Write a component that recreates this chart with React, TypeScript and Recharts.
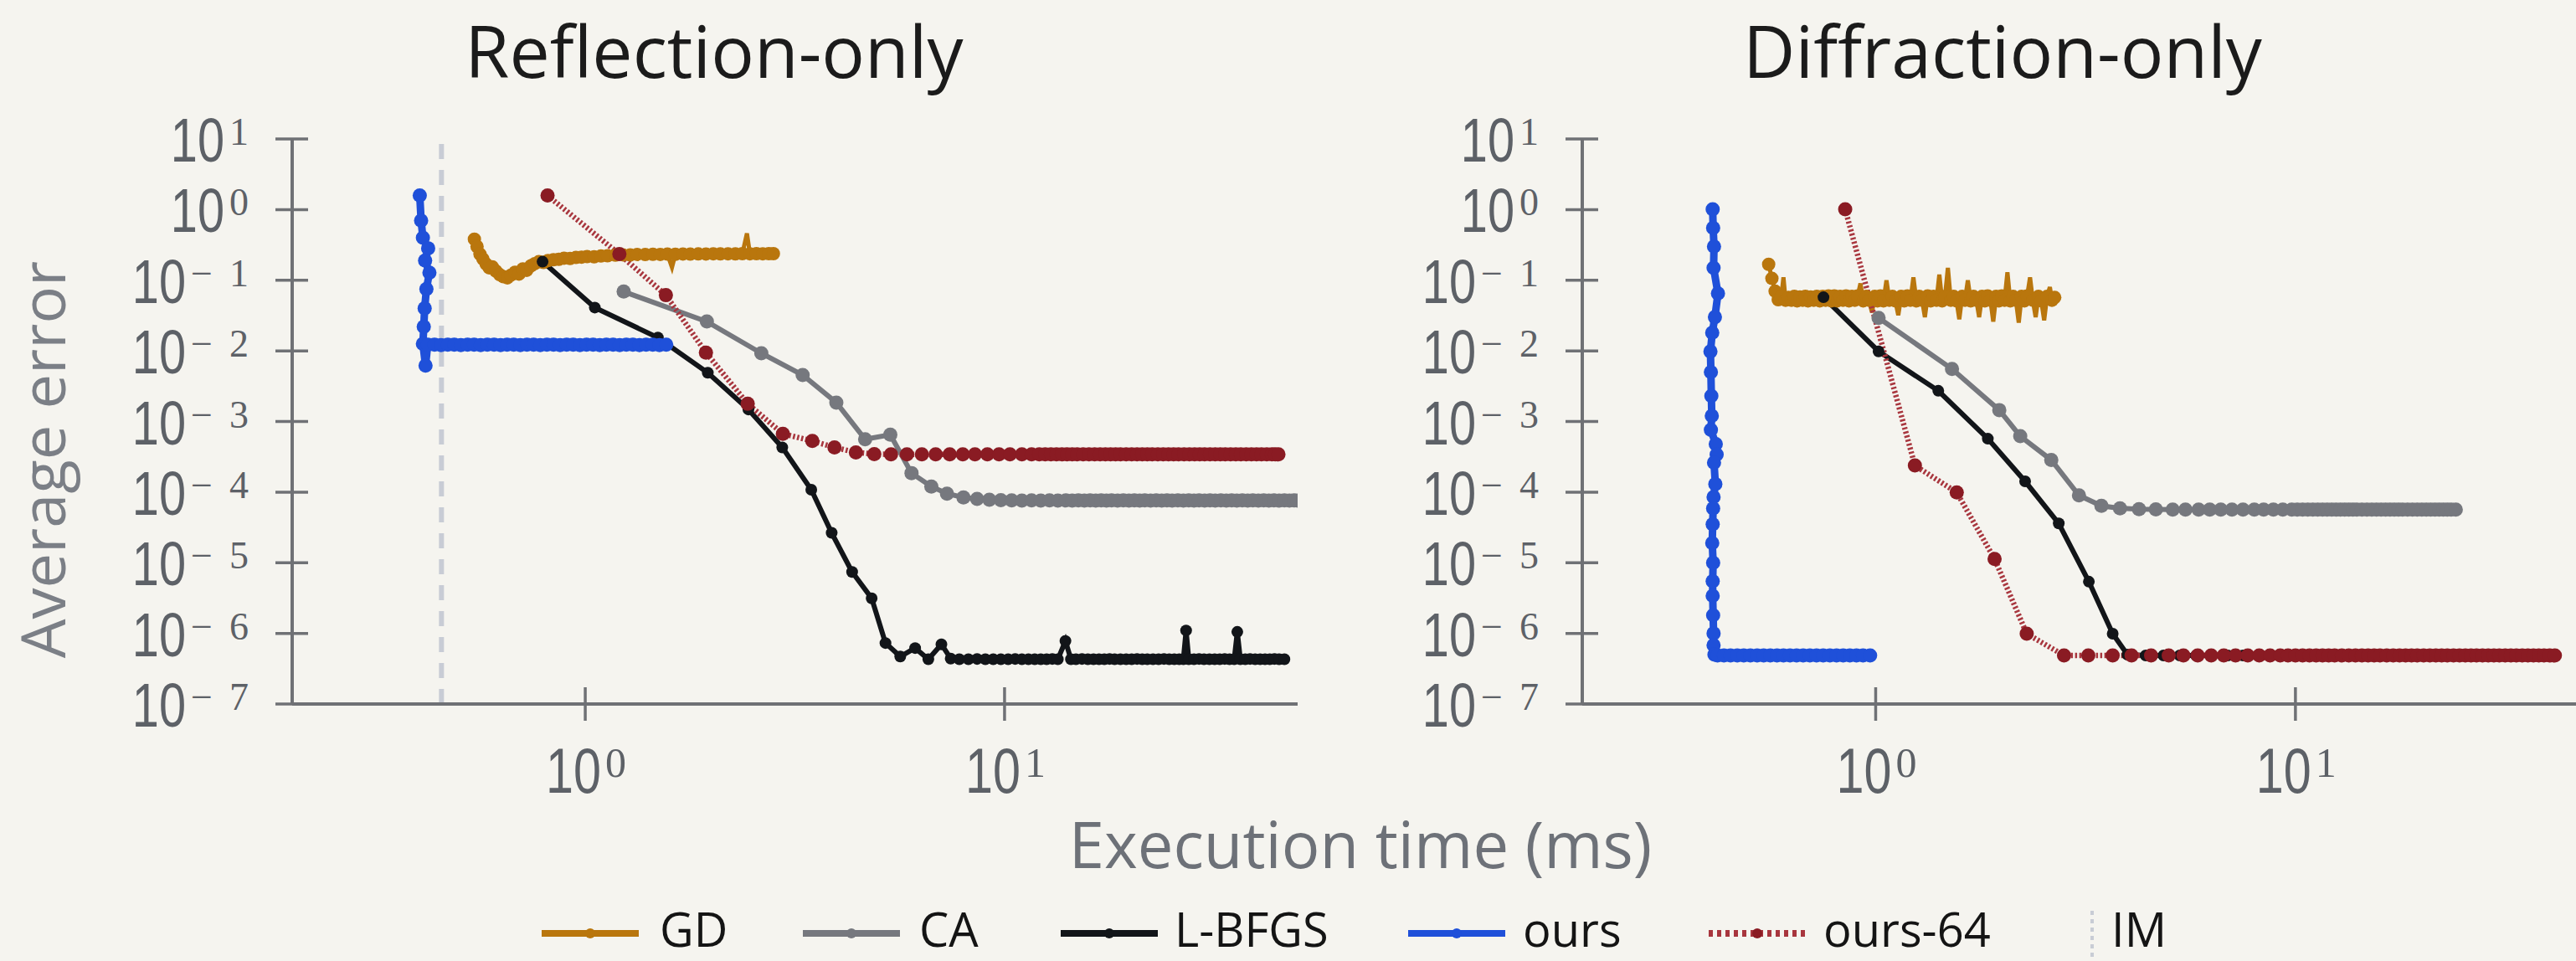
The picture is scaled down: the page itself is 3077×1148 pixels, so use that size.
import React from "react";
import { LineChart, Line, XAxis, YAxis, ReferenceLine } from "recharts";

// [time ms, error, marker shown (0 = line only)]
type Pt = [number, number, number?];

const yTicks = [1e1, 1e0, 1e-1, 1e-2, 1e-3, 1e-4, 1e-5, 1e-6, 1e-7];
const xTicks = [1, 10];
const imTime = 0.454;

// ---------- Reflection-only ----------
const reflGD: Pt[] = [
  [0.544, 0.382], [0.552, 0.3], [0.561, 0.234], [0.57, 0.2], [0.58, 0.17], [0.59, 0.15],
  [0.6, 0.155], [0.612, 0.135], [0.625, 0.12], [0.638, 0.112], [0.652, 0.108], [0.665, 0.118],
  [0.68, 0.13], [0.695, 0.122], [0.71, 0.145], [0.725, 0.138], [0.742, 0.16], [0.758, 0.172],
  [0.775, 0.183], [0.795, 0.178], [0.815, 0.19], [0.84, 0.195], [0.865, 0.198], [0.89, 0.205],
  [0.92, 0.203], [0.95, 0.21], [0.98, 0.212], [1.01, 0.216], [1.05, 0.214], [1.09, 0.22],
  [1.13, 0.222], [1.18, 0.226], [1.23, 0.229], [1.28, 0.228], [1.33, 0.232], [1.39, 0.231],
  [1.45, 0.233], [1.51, 0.232], [1.57, 0.234], [1.61, 0.152, 0], [1.64, 0.233], [1.71, 0.235],
  [1.78, 0.234], [1.86, 0.236], [1.94, 0.235], [2.02, 0.237], [2.1, 0.236], [2.19, 0.237],
  [2.28, 0.236], [2.37, 0.238], [2.43, 0.46, 0], [2.47, 0.237], [2.56, 0.238], [2.65, 0.237],
  [2.74, 0.238], [2.81, 0.238],
];

const reflCA: Pt[] = [
  [1.235, 0.069], [1.95, 0.026], [2.63, 0.00925], [3.3, 0.00455], [3.97, 0.00185],
  [4.65, 5.6e-4], [5.34, 6.5e-4], [6.0, 1.86e-4], [6.69, 1.2e-4], [7.29, 9.5e-5],
  [7.98, 8.4e-5], [8.6, 8.0e-5], [9.2, 7.8e-5], [9.8, 7.7e-5], [10.4, 7.65e-5],
  [11.0, 7.6e-5], [11.6, 7.65e-5], [12.2, 7.6e-5], [12.8, 7.65e-5], [13.4, 7.6e-5],
  [14.0, 7.65e-5], [14.5, 7.6e-5], [15.0, 7.65e-5], [15.5, 7.6e-5], [16.0, 7.65e-5],
  [16.5, 7.6e-5], [17.0, 7.65e-5], [17.5, 7.6e-5], [18.0, 7.65e-5], [18.6, 7.6e-5],
  [19.2, 7.65e-5], [19.8, 7.6e-5], [20.4, 7.65e-5], [21.0, 7.6e-5], [21.6, 7.65e-5],
  [22.3, 7.6e-5], [23.0, 7.65e-5], [23.7, 7.6e-5], [24.4, 7.65e-5], [25.1, 7.6e-5],
  [25.9, 7.65e-5], [26.7, 7.6e-5], [27.5, 7.65e-5], [28.3, 7.6e-5], [29.1, 7.65e-5],
  [30.0, 7.6e-5], [30.9, 7.65e-5], [31.8, 7.6e-5], [32.8, 7.65e-5], [33.8, 7.6e-5],
  [34.8, 7.65e-5], [35.8, 7.6e-5], [36.9, 7.65e-5], [38.0, 7.6e-5], [39.1, 7.65e-5],
  [40.3, 7.6e-5], [41.5, 7.65e-5], [42.7, 7.6e-5], [43.9, 7.65e-5], [45.2, 7.6e-5],
  [46.5, 7.65e-5], [47.8, 7.6e-5], [49.0, 7.65e-5], [50.0, 7.6e-5],
];

const reflLBFGS: Pt[] = [
  [0.791, 0.183], [1.054, 0.041], [1.49, 0.0154], [1.96, 0.0049], [2.45, 0.00148],
  [2.95, 4.3e-4], [3.46, 1.08e-4], [3.87, 2.65e-5], [4.33, 7.4e-6], [4.82, 3.14e-6],
  [5.2, 7.3e-7], [5.64, 4.7e-7], [6.12, 6.2e-7], [6.58, 4.3e-7], [7.07, 7.0e-7],
  [7.44, 4.4e-7], [7.8, 4.3e-7], [8.2, 4.3e-7], [8.6, 4.35e-7], [9.0, 4.3e-7],
  [9.4, 4.3e-7], [9.8, 4.3e-7], [10.2, 4.3e-7], [10.6, 4.35e-7], [11.0, 4.3e-7],
  [11.4, 4.3e-7], [11.8, 4.3e-7], [12.2, 4.3e-7], [12.6, 4.3e-7], [13.0, 4.35e-7],
  [13.4, 4.3e-7], [13.97, 7.8e-7], [14.4, 4.3e-7], [14.8, 4.3e-7], [15.3, 4.35e-7],
  [15.8, 4.3e-7], [16.3, 4.3e-7], [16.8, 4.3e-7], [17.3, 4.3e-7], [17.8, 4.35e-7],
  [18.3, 4.3e-7], [18.9, 4.3e-7], [19.5, 4.3e-7], [20.1, 4.3e-7], [20.7, 4.35e-7],
  [21.3, 4.3e-7], [21.9, 4.3e-7], [22.6, 4.3e-7], [23.3, 4.3e-7], [24.0, 4.35e-7],
  [24.7, 4.3e-7], [25.4, 4.3e-7], [26.1, 4.3e-7], [26.7, 4.3e-7], [27.1, 1.1e-6],
  [27.5, 4.3e-7], [28.3, 4.3e-7], [29.1, 4.35e-7], [29.9, 4.3e-7], [30.8, 4.3e-7],
  [31.7, 4.3e-7], [32.6, 4.3e-7], [33.5, 4.35e-7], [34.4, 4.3e-7], [35.3, 4.3e-7],
  [35.9, 1.05e-6], [36.5, 4.3e-7], [37.5, 4.3e-7], [38.5, 4.35e-7], [39.6, 4.3e-7],
  [40.7, 4.3e-7], [41.8, 4.3e-7], [42.9, 4.3e-7], [44.0, 4.35e-7], [45.2, 4.3e-7],
  [46.5, 4.3e-7],
];

const reflOurs: Pt[] = [
  [0.403, 1.58], [0.406, 0.7], [0.41, 0.4], [0.422, 0.283], [0.415, 0.19], [0.425, 0.128],
  [0.418, 0.075], [0.414, 0.04], [0.412, 0.022], [0.41, 0.0126], [0.416, 0.0062],
  [0.421, 0.0122], [0.437, 0.0122], [0.453, 0.0121], [0.47, 0.0122], [0.487, 0.0122],
  [0.505, 0.0121], [0.524, 0.0122], [0.543, 0.0122], [0.563, 0.0121], [0.584, 0.0122],
  [0.606, 0.0122], [0.628, 0.0121], [0.651, 0.0122], [0.675, 0.0122], [0.7, 0.0121],
  [0.726, 0.0122], [0.753, 0.0122], [0.781, 0.0121], [0.81, 0.0122], [0.84, 0.0122],
  [0.871, 0.0121], [0.903, 0.0122], [0.936, 0.0122], [0.971, 0.0121], [1.007, 0.0122],
  [1.044, 0.0122], [1.083, 0.0121], [1.123, 0.0122], [1.165, 0.0122], [1.208, 0.0121],
  [1.253, 0.0122], [1.299, 0.0122], [1.347, 0.0121], [1.397, 0.0122], [1.449, 0.0122],
  [1.503, 0.0121], [1.56, 0.0122],
];

const reflOurs64: Pt[] = [
  [0.813, 1.58], [1.206, 0.234], [1.557, 0.0614], [1.94, 0.00946], [2.44, 0.00178],
  [2.96, 6.7e-4], [3.48, 5.3e-4], [3.93, 4.3e-4], [4.42, 3.65e-4], [4.89, 3.45e-4],
  [5.36, 3.43e-4], [5.85, 3.43e-4], [6.35, 3.43e-4], [6.85, 3.43e-4], [7.4, 3.43e-4],
  [7.95, 3.43e-4], [8.5, 3.43e-4], [9.1, 3.43e-4], [9.7, 3.43e-4], [10.3, 3.43e-4],
  [11.0, 3.43e-4], [11.6, 3.43e-4], [12.1, 3.43e-4], [12.5, 3.43e-4], [12.9, 3.43e-4],
  [13.3, 3.43e-4], [13.7, 3.43e-4], [14.1, 3.43e-4], [14.5, 3.43e-4], [14.9, 3.43e-4],
  [15.4, 3.43e-4], [15.9, 3.43e-4], [16.4, 3.43e-4], [16.9, 3.43e-4], [17.4, 3.43e-4],
  [17.9, 3.43e-4], [18.4, 3.43e-4], [18.9, 3.43e-4], [19.5, 3.43e-4], [20.1, 3.43e-4],
  [20.7, 3.43e-4], [21.3, 3.43e-4], [21.9, 3.43e-4], [22.5, 3.43e-4], [23.2, 3.43e-4],
  [23.9, 3.43e-4], [24.6, 3.43e-4], [25.3, 3.43e-4], [26.0, 3.43e-4], [26.8, 3.43e-4],
  [27.6, 3.43e-4], [28.4, 3.43e-4], [29.2, 3.43e-4], [30.0, 3.43e-4], [30.9, 3.43e-4],
  [31.8, 3.43e-4], [32.7, 3.43e-4], [33.6, 3.43e-4], [34.6, 3.43e-4], [35.6, 3.43e-4],
  [36.6, 3.43e-4], [37.7, 3.43e-4], [38.8, 3.43e-4], [39.9, 3.43e-4], [41.0, 3.43e-4],
  [42.2, 3.43e-4], [43.4, 3.43e-4], [44.2, 3.43e-4], [45.0, 3.43e-4],
];

// ---------- Diffraction-only ----------
const diffGD: Pt[] = [
  [0.556, 0.168], [0.566, 0.106], [0.576, 0.07], [0.586, 0.053], [0.596, 0.058],
  [0.603, 0.11, 0], [0.61, 0.052], [0.62, 0.057], [0.63, 0.052], [0.64, 0.059], [0.65, 0.051],
  [0.66, 0.058], [0.67, 0.052], [0.68, 0.059], [0.69, 0.051], [0.7, 0.058], [0.712, 0.052],
  [0.724, 0.059], [0.736, 0.051], [0.748, 0.059], [0.76, 0.052], [0.772, 0.06], [0.784, 0.051],
  [0.797, 0.06], [0.81, 0.051], [0.823, 0.059], [0.836, 0.052], [0.85, 0.06], [0.864, 0.051],
  [0.878, 0.059], [0.892, 0.052], [0.906, 0.06], [0.92, 0.09, 0], [0.934, 0.051],
  [0.949, 0.059], [0.964, 0.052], [0.98, 0.035, 0], [0.995, 0.059], [1.01, 0.051],
  [1.027, 0.06], [1.044, 0.051], [1.061, 0.1, 0], [1.078, 0.052], [1.096, 0.059],
  [1.114, 0.051], [1.132, 0.032, 0], [1.15, 0.059], [1.17, 0.051], [1.19, 0.06],
  [1.21, 0.052], [1.23, 0.11, 0], [1.25, 0.051], [1.27, 0.059], [1.29, 0.052],
  [1.31, 0.03, 0], [1.33, 0.06], [1.352, 0.051], [1.374, 0.059], [1.396, 0.052],
  [1.418, 0.12, 0], [1.44, 0.051], [1.463, 0.059], [1.486, 0.15, 0], [1.51, 0.052],
  [1.534, 0.059], [1.558, 0.051], [1.582, 0.028, 0], [1.607, 0.059], [1.632, 0.052],
  [1.658, 0.1, 0], [1.684, 0.051], [1.71, 0.059], [1.737, 0.052], [1.764, 0.03, 0],
  [1.792, 0.059], [1.82, 0.051], [1.848, 0.06], [1.877, 0.052], [1.906, 0.026, 0],
  [1.936, 0.059], [1.966, 0.051], [1.997, 0.06], [2.028, 0.052], [2.06, 0.13, 0],
  [2.092, 0.051], [2.125, 0.059], [2.158, 0.052], [2.192, 0.025, 0], [2.226, 0.059],
  [2.261, 0.051], [2.296, 0.06], [2.332, 0.11, 0], [2.368, 0.052], [2.405, 0.03, 0],
  [2.442, 0.059], [2.48, 0.051], [2.52, 0.027, 0], [2.56, 0.059], [2.6, 0.08, 0],
  [2.63, 0.052], [2.67, 0.057],
];

const diffCA: Pt[] = [
  [1.016, 0.0293], [1.52, 0.00554], [1.97, 0.00145], [2.21, 6.2e-4], [2.62, 2.85e-4],
  [3.05, 9.0e-5], [3.45, 6.4e-5], [3.82, 5.9e-5], [4.24, 5.75e-5], [4.65, 5.7e-5],
  [5.1, 5.65e-5], [5.47, 5.65e-5], [5.88, 5.65e-5], [6.25, 5.65e-5], [6.64, 5.65e-5],
  [7.06, 5.65e-5], [7.5, 5.65e-5], [7.98, 5.65e-5], [8.4, 5.65e-5], [8.86, 5.65e-5],
  [9.33, 5.65e-5], [9.8, 5.65e-5], [10.1, 5.65e-5], [10.4, 5.65e-5], [10.7, 5.65e-5],
  [11.0, 5.65e-5], [11.3, 5.65e-5], [11.6, 5.65e-5], [11.9, 5.65e-5], [12.2, 5.65e-5],
  [12.5, 5.65e-5], [12.8, 5.65e-5], [13.1, 5.65e-5], [13.4, 5.65e-5], [13.7, 5.65e-5],
  [14.0, 5.65e-5], [14.4, 5.65e-5], [14.8, 5.65e-5], [15.2, 5.65e-5], [15.6, 5.65e-5],
  [16.0, 5.65e-5], [16.4, 5.65e-5], [16.8, 5.65e-5], [17.2, 5.65e-5], [17.6, 5.65e-5],
  [18.0, 5.65e-5], [18.5, 5.65e-5], [19.0, 5.65e-5], [19.5, 5.65e-5], [20.0, 5.65e-5],
  [20.5, 5.65e-5], [21.0, 5.65e-5], [21.5, 5.65e-5], [22.0, 5.65e-5], [22.5, 5.65e-5],
  [23.0, 5.65e-5], [23.5, 5.65e-5], [24.1, 5.65e-5],
];

const diffLBFGS: Pt[] = [
  [0.751, 0.0574], [1.016, 0.00984], [1.41, 0.00272], [1.85, 5.7e-4], [2.27, 1.42e-4],
  [2.73, 3.6e-5], [3.22, 5.4e-6], [3.67, 9.9e-7], [3.98, 5.0e-7], [4.4, 4.87e-7],
  [4.85, 4.87e-7], [5.3, 4.87e-7], [5.8, 4.87e-7], [6.3, 4.87e-7], [6.9, 4.87e-7],
  [7.5, 4.87e-7],
];

const diffOurs: Pt[] = [
  [0.409, 1.01], [0.41, 0.55], [0.412, 0.3], [0.411, 0.15], [0.421, 0.065], [0.414, 0.03],
  [0.408, 0.018], [0.404, 0.0098], [0.405, 0.005], [0.406, 0.0023], [0.407, 0.0012],
  [0.405, 7.6e-4], [0.416, 4.8e-4], [0.418, 3.4e-4], [0.412, 2.6e-4], [0.415, 1.3e-4],
  [0.411, 8.5e-5], [0.41, 5.9e-5], [0.409, 3.5e-5], [0.408, 1.9e-5], [0.41, 1.0e-5],
  [0.409, 5.5e-6], [0.409, 3.4e-6], [0.41, 1.8e-6], [0.411, 1.0e-6], [0.411, 6.8e-7],
  [0.413, 5.0e-7], [0.42, 4.87e-7], [0.435, 4.87e-7], [0.451, 4.87e-7], [0.468, 4.87e-7],
  [0.485, 4.87e-7], [0.503, 4.87e-7], [0.522, 4.87e-7], [0.541, 4.87e-7], [0.561, 4.87e-7],
  [0.582, 4.87e-7], [0.603, 4.87e-7], [0.625, 4.87e-7], [0.648, 4.87e-7], [0.672, 4.87e-7],
  [0.697, 4.87e-7], [0.723, 4.87e-7], [0.75, 4.87e-7], [0.778, 4.87e-7], [0.807, 4.87e-7],
  [0.837, 4.87e-7], [0.868, 4.87e-7], [0.9, 4.87e-7], [0.933, 4.87e-7], [0.97, 4.87e-7],
];

const diffOurs64: Pt[] = [
  [0.846, 1.01], [1.24, 2.38e-4], [1.56, 9.9e-5], [1.92, 1.13e-5], [2.29, 9.9e-7],
  [2.81, 4.87e-7], [3.21, 4.87e-7], [3.67, 4.87e-7], [4.07, 4.87e-7], [4.53, 4.87e-7],
  [4.99, 4.87e-7], [5.41, 4.87e-7], [5.85, 4.87e-7], [6.3, 4.87e-7], [6.75, 4.87e-7],
  [7.2, 4.87e-7], [7.7, 4.87e-7], [8.2, 4.87e-7], [8.7, 4.87e-7], [9.2, 4.87e-7],
  [9.6, 4.87e-7], [10.0, 4.87e-7], [10.4, 4.87e-7], [10.8, 4.87e-7], [11.2, 4.87e-7],
  [11.6, 4.87e-7], [12.0, 4.87e-7], [12.4, 4.87e-7], [12.9, 4.87e-7], [13.4, 4.87e-7],
  [13.9, 4.87e-7], [14.4, 4.87e-7], [14.9, 4.87e-7], [15.4, 4.87e-7], [15.9, 4.87e-7],
  [16.5, 4.87e-7], [17.1, 4.87e-7], [17.7, 4.87e-7], [18.3, 4.87e-7], [18.9, 4.87e-7],
  [19.5, 4.87e-7], [20.2, 4.87e-7], [20.9, 4.87e-7], [21.6, 4.87e-7], [22.3, 4.87e-7],
  [23.0, 4.87e-7], [23.8, 4.87e-7], [24.6, 4.87e-7], [25.4, 4.87e-7], [26.2, 4.87e-7],
  [27.0, 4.87e-7], [27.9, 4.87e-7], [28.8, 4.87e-7], [29.7, 4.87e-7], [30.6, 4.87e-7],
  [31.6, 4.87e-7], [32.6, 4.87e-7], [33.6, 4.87e-7], [34.7, 4.87e-7], [35.8, 4.87e-7],
  [36.9, 4.87e-7], [38.0, 4.87e-7], [39.1, 4.87e-7], [40.3, 4.87e-7], [41.5, 4.87e-7],
];

const SERIES = [
  { name: "GD", color: "#b9760d", line: "#b9760d", width: 5, r: 8, dash: undefined as string | undefined },
  { name: "CA", color: "#76787e", line: "#76787e", width: 6, r: 8.5, dash: undefined },
  { name: "L-BFGS", color: "#121519", line: "#121519", width: 6, r: 7, dash: undefined },
  { name: "ours", color: "#1f50d9", line: "#1f50d9", width: 9, r: 8.5, dash: undefined },
  { name: "ours-64", color: "#8a1b23", line: "#a8363e", width: 6.5, r: 8.5, dash: "2.5 2.5" },
];

const reflData: Record<string, Pt[]> = {
  GD: reflGD, CA: reflCA, "L-BFGS": reflLBFGS, ours: reflOurs, "ours-64": reflOurs64,
};
const diffData: Record<string, Pt[]> = {
  GD: diffGD, CA: diffCA, "L-BFGS": diffLBFGS, ours: diffOurs, "ours-64": diffOurs64,
};

const BG = "#f5f4ef";
const AXIS = "#6f7175";
const TICK_TEXT = "#5d6167";
const SANS = "'Open Sans', 'Noto Sans', sans-serif";
const TICK_SANS = "'Liberation Sans', Arial, sans-serif";
const SERIF = "'Liberation Serif', 'DejaVu Serif', serif";
const SQUEEZE = 0.78;

function YTick(props: any) {
  const { x, y, payload } = props;
  const exp = Math.round(Math.log10(payload.value));
  const neg = exp < 0;
  const supW = neg ? 69 : 23;
  const supX = x - 52 - supW;
  const tenRight = supX - 6;
  return (
    <g>
      <line x1={x - 20} x2={x + 19} y1={y} y2={y} stroke={AXIS} strokeWidth={3.5} />
      <text
        transform={`translate(${tenRight} ${y + 27}) scale(${SQUEEZE} 1)`}
        textAnchor="end"
        fontFamily={TICK_SANS}
        fontSize={74}
        fill={TICK_TEXT}
      >
        10
      </text>
      <text
        x={supX}
        y={y + 7}
        fontFamily={SERIF}
        fontSize={46}
        fill={TICK_TEXT}
        {...(neg ? { textLength: supW, lengthAdjust: "spacing" } : {})}
      >
        {neg ? `\u2212${-exp}` : `${exp}`}
      </text>
    </g>
  );
}

function XTick(props: any) {
  const { x, y, payload } = props;
  const exp = Math.round(Math.log10(payload.value));
  const start = x - 47;
  return (
    <g>
      <line x1={x} x2={x} y1={y - 20} y2={y + 20} stroke={AXIS} strokeWidth={3.5} />
      <text
        transform={`translate(${start} ${y + 106}) scale(${SQUEEZE} 1)`}
        fontFamily={TICK_SANS}
        fontSize={76}
        fill={TICK_TEXT}
      >
        10
      </text>
      <text x={start + 71} y={y + 87} fontFamily={SERIF} fontSize={50} fill={TICK_TEXT}>{`${exp}`}</text>
    </g>
  );
}

interface PanelProps {
  left: number;
  width: number;
  yAxisWidth: number;
  marginRight: number;
  xDomain: [number, number];
  data: Record<string, Pt[]>;
  showIM?: boolean;
}

function Panel({ left, width, yAxisWidth, marginRight, xDomain, data, showIM }: PanelProps) {
  return (
    <div style={{ position: "absolute", left, top: 0 }}>
      <LineChart width={width} height={1000} margin={{ top: 166, right: marginRight, bottom: 0, left: 0 }}>
        <XAxis
          type="number"
          dataKey="x"
          scale="log"
          domain={xDomain}
          allowDataOverflow
          ticks={xTicks}
          height={159}
          tickSize={0}
          tickMargin={0}
          tickLine={false}
          axisLine={{ stroke: AXIS, strokeWidth: 4 }}
          tick={<XTick />}
        />
        <YAxis
          type="number"
          dataKey="y"
          scale="log"
          domain={[1e-7, 10]}
          allowDataOverflow
          ticks={yTicks}
          width={yAxisWidth}
          tickSize={0}
          tickMargin={0}
          tickLine={false}
          axisLine={{ stroke: AXIS, strokeWidth: 4 }}
          tick={<YTick />}
        />
        {showIM && (
          <ReferenceLine x={imTime} stroke="#c8ccd5" strokeWidth={6} strokeDasharray="18 13" />
        )}
        {SERIES.map((s) => (
          <Line
            key={s.name}
            data={data[s.name].map(([x, y, m]) => ({ x, y, m: m ?? 1 }))}
            dataKey="y"
            name={s.name}
            stroke={s.line}
            strokeWidth={s.width}
            strokeDasharray={s.dash}
            dot={(p: any) =>
              p.payload.m ? (
                <circle key={`${s.name}-${p.index}`} cx={p.cx} cy={p.cy} r={s.r} fill={s.color} />
              ) : (
                <g key={`${s.name}-${p.index}`} />
              )
            }
            activeDot={false}
            isAnimationActive={false}
          />
        ))}
      </LineChart>
    </div>
  );
}

const LEGEND_POS = [
  { line: 647, text: 788 },
  { line: 959, text: 1098 },
  { line: 1267, text: 1403 },
  { line: 1682, text: 1819 },
  { line: 2041, text: 2178 },
];

function Overlay() {
  const ly = 1115;
  return (
    <svg width={3077} height={1148} style={{ position: "absolute", left: 0, top: 0 }}>
      <text x={853} y={93} textAnchor="middle" fontFamily={SANS} fontSize={86} fill="#1b1b1b">
        Reflection-only
      </text>
      <text x={2392} y={93} textAnchor="middle" fontFamily={SANS} fontSize={86} fill="#1b1b1b">
        Diffraction-only
      </text>
      <text
        x={0}
        y={0}
        transform="translate(78 549) rotate(-90)"
        textAnchor="middle"
        fontFamily={SANS}
        fontSize={74}
        fill="#7b7f86"
      >
        Average error
      </text>
      <text x={1625} y={1037} textAnchor="middle" fontFamily={SANS} fontSize={76} fill="#6d7178">
        Execution time (ms)
      </text>
      {SERIES.map((s, i) => {
        const p = LEGEND_POS[i];
        return (
          <g key={s.name}>
            <line x1={p.line} x2={p.line + 116} y1={ly} y2={ly} stroke={s.line}
              strokeWidth={8} strokeDasharray={s.dash ? "5 5" : undefined} />
            <circle cx={p.line + 58} cy={ly} r={6} fill={s.color} />
            <text x={p.text} y={1131} fontFamily={SANS} fontSize={56} fill="#141414">{s.name}</text>
          </g>
        );
      })}
      <line x1={2499} x2={2499} y1={1088} y2={1148} stroke="#c8ccd5" strokeWidth={4} strokeDasharray="5 5" />
      <text x={2522} y={1131} fontFamily={SANS} fontSize={56} fill="#141414">IM</text>
    </svg>
  );
}

export default function App() {
  return (
    <div
      style={{
        position: "fixed",
        left: 0,
        top: 0,
        width: 3077,
        height: 1148,
        overflow: "hidden",
        background: BG,
      }}
    >
      <Overlay />
      <Panel left={0} width={1600} yAxisWidth={349} marginRight={50} xDomain={[0.2, 50]} data={reflData} showIM />
      <Panel left={1540} width={1537} yAxisWidth={350} marginRight={0} xDomain={[0.2, 46.6]} data={diffData} />
    </div>
  );
}
